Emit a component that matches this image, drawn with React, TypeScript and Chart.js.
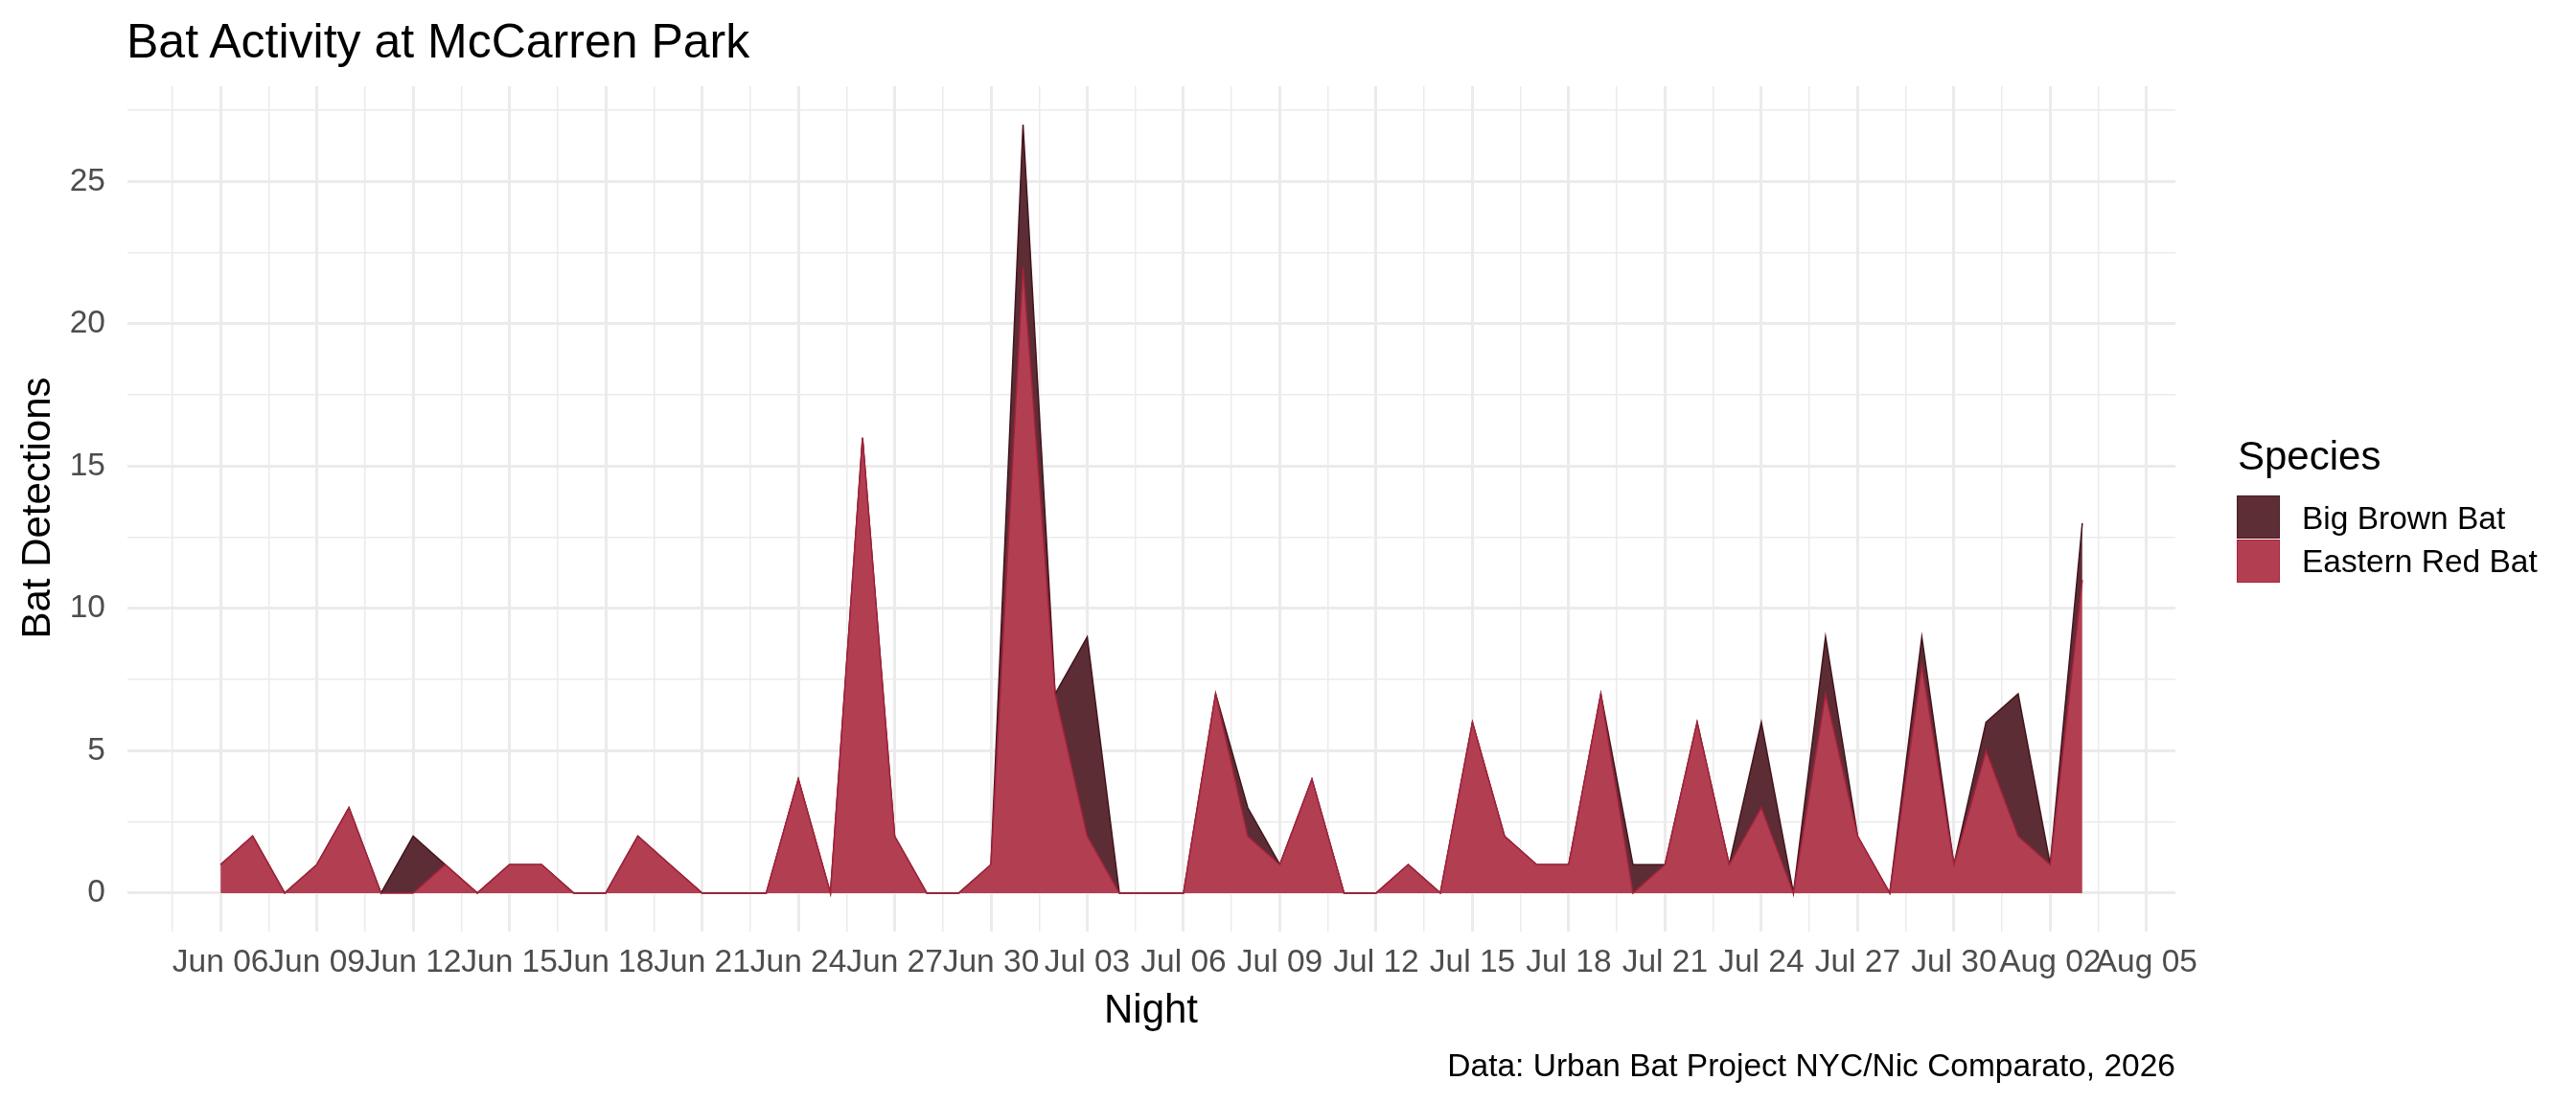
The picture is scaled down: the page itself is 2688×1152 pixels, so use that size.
import { useEffect, useRef } from "react";
import { Chart, registerables } from "chart.js";

Chart.register(...registerables);

const FONT = "'Liberation Sans', Arial, Helvetica, sans-serif";

// one entry per night, Jun 06 .. Aug 03
const nights = [
  "Jun 06", "Jun 07", "Jun 08", "Jun 09", "Jun 10", "Jun 11", "Jun 12", "Jun 13", "Jun 14", "Jun 15",
  "Jun 16", "Jun 17", "Jun 18", "Jun 19", "Jun 20", "Jun 21", "Jun 22", "Jun 23", "Jun 24", "Jun 25",
  "Jun 26", "Jun 27", "Jun 28", "Jun 29", "Jun 30",
  "Jul 01", "Jul 02", "Jul 03", "Jul 04", "Jul 05", "Jul 06", "Jul 07", "Jul 08", "Jul 09", "Jul 10",
  "Jul 11", "Jul 12", "Jul 13", "Jul 14", "Jul 15", "Jul 16", "Jul 17", "Jul 18", "Jul 19", "Jul 20",
  "Jul 21", "Jul 22", "Jul 23", "Jul 24", "Jul 25", "Jul 26", "Jul 27", "Jul 28", "Jul 29", "Jul 30",
  "Jul 31",
  "Aug 01", "Aug 02", "Aug 03",
];

const easternRedBat = [
  1, 2, 0, 1, 3, 0, 0, 1, 0, 1,
  1, 0, 0, 2, 1, 0, 0, 0, 4, 0,
  16, 2, 0, 0, 1,
  22, 7, 2, 0, 0, 0, 7, 2, 1, 4,
  0, 0, 1, 0, 6, 2, 1, 1, 7, 0,
  1, 6, 1, 3, 0, 7, 2, 0, 8, 1,
  5,
  2, 1, 11,
];

const bigBrownBat = [
  0, 0, 0, 0, 0, 0, 2, 0, 0, 0,
  0, 0, 0, 0, 0, 0, 0, 0, 0, 0,
  0, 0, 0, 0, 0,
  5, 0, 7, 0, 0, 0, 0, 1, 0, 0,
  0, 0, 0, 0, 0, 0, 0, 0, 0, 1,
  0, 0, 0, 3, 0, 2, 0, 0, 1, 0,
  1,
  5, 0, 2,
];

// every third night gets a label, starting at Jun 06
const xTickLabels = [
  "Jun 06", "Jun 09", "Jun 12", "Jun 15", "Jun 18", "Jun 21", "Jun 24", "Jun 27", "Jun 30",
  "Jul 03", "Jul 06", "Jul 09", "Jul 12", "Jul 15", "Jul 18", "Jul 21", "Jul 24", "Jul 27", "Jul 30",
  "Aug 02", "Aug 05",
];
const yTickLabels = [0, 5, 10, 15, 20, 25];

const RED_FILL = "#B13F51";
const RED_LINE = "#A3213A";
const BROWN_FILL = "#5C2D35";
const BROWN_LINE = "#43141D";
const GRID = "#EBEBEB";

export default function App() {
  const chartRef = useRef<HTMLCanvasElement>(null);

  useEffect(() => {
    if (!chartRef.current) return;

    const n = nights.length;
    const xPad = (n - 1) * 0.05;
    const yMax = Math.max(...nights.map((_, i) => easternRedBat[i] + bigBrownBat[i]));
    const yPad = yMax * 0.05;

    const xTicks: number[] = [];
    for (let v = -1.5; v <= n - 1 + xPad; v += 1.5) xTicks.push(v);
    const yTicks: number[] = [];
    for (let v = 0; v <= yMax + yPad; v += 2.5) yTicks.push(v);

    const isMajorX = (v: number) => v >= 0 && Math.abs(v % 3) < 1e-6;
    const isMajorY = (v: number) => yTickLabels.includes(v);

    const chart = new Chart(chartRef.current, {
      type: "line",
      data: {
        datasets: [
          {
            label: "Eastern Red Bat",
            data: nights.map((_, i) => ({ x: i, y: easternRedBat[i] })),
            backgroundColor: RED_FILL,
            borderColor: RED_LINE,
            borderWidth: 1.5,
            fill: "origin",
            pointRadius: 0,
            tension: 0,
          },
          {
            label: "Big Brown Bat",
            data: nights.map((_, i) => ({ x: i, y: bigBrownBat[i] })),
            backgroundColor: BROWN_FILL,
            borderColor: BROWN_LINE,
            borderWidth: 1.5,
            fill: "-1",
            pointRadius: 0,
            tension: 0,
          },
        ],
      },
      options: {
        responsive: false,
        animation: false,
        layout: { padding: { left: 0, right: 418, top: 90, bottom: 120 } },
        plugins: {
          legend: { display: false },
          tooltip: { enabled: false },
          title: { display: false },
        },
        scales: {
          x: {
            type: "linear",
            min: -xPad,
            max: n - 1 + xPad,
            afterBuildTicks: (axis: any) => {
              axis.ticks = xTicks.map((value) => ({ value }));
            },
            afterFit: (axis: any) => {
              axis.height = 60;
            },
            border: { display: false },
            grid: {
              color: GRID,
              drawTicks: false,
              lineWidth: (ctx: any) => (ctx.tick && isMajorX(ctx.tick.value) ? 3 : 1.5),
            },
            ticks: {
              autoSkip: false,
              maxRotation: 0,
              padding: 13,
              color: "#4D4D4D",
              font: { family: FONT, size: 33.5 },
              callback: (value: any) =>
                isMajorX(Number(value)) ? xTickLabels[Math.round(Number(value) / 3)] ?? "" : "",
            },
          },
          y: {
            type: "linear",
            stacked: true,
            min: -yPad,
            max: yMax + yPad,
            afterBuildTicks: (axis: any) => {
              axis.ticks = yTicks.map((value) => ({ value }));
            },
            afterFit: (axis: any) => {
              axis.width = 133;
            },
            border: { display: false },
            grid: {
              color: GRID,
              drawTicks: false,
              lineWidth: (ctx: any) => (ctx.tick && isMajorY(ctx.tick.value) ? 3 : 1.5),
            },
            ticks: {
              padding: 23,
              color: "#4D4D4D",
              font: { family: FONT, size: 33.5 },
              callback: (value: any) => (isMajorY(Number(value)) ? String(value) : ""),
            },
          },
        },
      },
    });

    return () => {
      chart.destroy();
    };
  }, []);

  const text = { position: "absolute" as const, lineHeight: 1, whiteSpace: "nowrap" as const, margin: 0 };

  return (
    <div
      style={{
        position: "fixed",
        left: 0,
        top: 0,
        width: 2688,
        height: 1152,
        background: "#FFFFFF",
        fontFamily: FONT,
        color: "#000",
        overflow: "hidden",
      }}
    >
      <canvas
        ref={chartRef}
        width={2688}
        height={1152}
        style={{ position: "absolute", left: 0, top: 0, width: 2688, height: 1152 }}
      />

      <div style={{ ...text, left: 132, top: 17.7, fontSize: 50 }}>Bat Activity at McCarren Park</div>

      <div
        style={{
          ...text,
          left: 38.2 - 300,
          top: 530 - 21,
          width: 600,
          height: 42,
          fontSize: 42,
          textAlign: "center",
          transform: "rotate(-90deg)",
          transformOrigin: "50% 50%",
        }}
      >
        Bat Detections
      </div>

      <div style={{ ...text, left: 1201 - 300, top: 1031.5, width: 600, fontSize: 42, textAlign: "center" }}>
        Night
      </div>

      <div style={{ ...text, right: 2688 - 2270, top: 1094.6, fontSize: 33.5, textAlign: "right" }}>
        Data: Urban Bat Project NYC/Nic Comparato, 2026
      </div>

      <div style={{ ...text, left: 2335, top: 454.5, fontSize: 42 }}>Species</div>

      <div
        style={{
          position: "absolute",
          left: 2334,
          top: 517,
          width: 43,
          height: 43,
          background: "#5E2E36",
          border: "1px solid #4A1B24",
        }}
      />
      <div
        style={{
          position: "absolute",
          left: 2334,
          top: 563,
          width: 43,
          height: 43,
          background: "#B23E51",
          border: "1px solid #A92339",
        }}
      />
      <div style={{ ...text, left: 2402, top: 523.6, fontSize: 33.5 }}>Big Brown Bat</div>
      <div style={{ ...text, left: 2402, top: 569, fontSize: 33.5 }}>Eastern Red Bat</div>
    </div>
  );
}
